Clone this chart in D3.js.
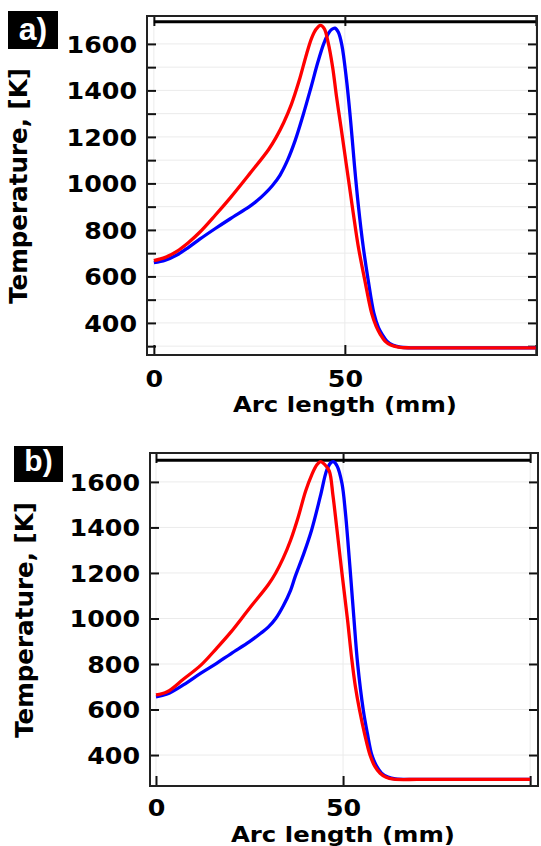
<!DOCTYPE html>
<html>
<head>
<meta charset="utf-8">
<script src="https://cdn.jsdelivr.net/npm/d3@7"></script>
<style>
  body { margin: 0; background: #fff; }
  svg { display: block; }
</style>
</head>
<body>
<svg id="chart" width="541" height="846"></svg>
<script>
// arc length (mm) / temperature (K)
const redA = [[0,668],[3,682],[6,708],[9,745],[12,790],[16,862],[20,938],[25,1040],[30,1145],[32,1198],[34,1262],[36,1340],[38,1440],[40,1558],[41.3,1625],[42.5,1664],[43.6,1680],[44.6,1666],[45.6,1608],[46.8,1500],[47.8,1375],[49,1240],[50,1125],[51,1010],[52.2,872],[53.5,730],[55.2,585],[57,442],[58.2,385],[59.3,350],[60.5,322],[62,305],[64,296],[67,293],[75,293],[85,293],[100,293]];
const blueA = [[0,659],[3,670],[6,692],[9,724],[12,760],[16,805],[20,848],[25,900],[27,925],[29,955],[31,990],[33,1035],[35,1100],[37,1185],[39,1290],[41,1405],[43,1525],[44.5,1602],[45.7,1645],[46.6,1663],[47.4,1668],[48.3,1650],[49.2,1596],[50.4,1450],[51.5,1270],[52.5,1080],[53.5,910],[54.8,728],[56.1,585],[57.6,442],[58.8,380],[59.8,350],[61,322],[62.5,305],[64.5,296],[67,293],[75,293],[85,293],[100,293]];
const redB = [[0,664],[3,678],[7.3,733],[12,795],[16.2,869],[20,940],[25,1045],[30,1148],[32,1200],[34,1265],[36,1345],[38,1445],[40,1560],[41.6,1630],[43,1675],[44,1689],[45,1678],[46.3,1648],[47.3,1540],[48.3,1400],[49.7,1200],[51.2,993],[52.3,825],[53.3,700],[54.4,598],[55.8,490],[57.2,400],[58.5,350],[59.9,320],[61.5,302],[63.5,294],[70,293],[80,293],[90,293],[100,293]];
const blueB = [[0,656],[3,668],[7.3,708],[12,760],[16.2,803],[20,845],[25,898],[28,935],[30,962],[32,1000],[34,1055],[36,1125],[37.2,1184],[39.5,1285],[41.6,1389],[43.9,1535],[45.6,1650],[46.6,1682],[47.4,1689],[48.4,1670],[49.7,1594],[50.6,1470],[51.4,1316],[52.2,1150],[52.9,1000],[53.9,800],[55.4,598],[56.5,495],[57.7,400],[59,350],[60.3,320],[62,303],[64,295],[70,293],[80,293],[90,293],[100,293]];
const meltLine = [[0,1695],[100,1695]];

const xTicks = [0, 50, 100];
const yLabelTicks = [400, 600, 800, 1000, 1200, 1400, 1600];
const yMinorTicksA = [300, 400, 500, 600, 700, 800, 900, 1000, 1100, 1200, 1300, 1400, 1500, 1600];

const svg = d3.select("#chart");
const FONT = "DejaVu Sans, sans-serif";

function stretch(sel, k) {
  sel.each(function () {
    const w = this.getComputedTextLength();
    if (w > 0) d3.select(this).attr("textLength", w * k).attr("lengthAdjust", "spacingAndGlyphs");
  });
}

function drawPanel(p) {
  const x = d3.scaleLinear().domain(p.xDomain).range([p.left, p.right]);
  const y = d3.scaleLinear().domain(p.yDomain).range([p.bottom, p.top]);
  const g = svg.append("g");

  // grid
  g.append("g").selectAll("line").data(p.grid).join("line")
    .attr("x1", p.left).attr("x2", p.right)
    .attr("y1", d => y(d)).attr("y2", d => y(d))
    .attr("stroke", "#ebebeb").attr("stroke-width", 1);
  g.append("g").selectAll("line").data(xTicks).join("line")
    .attr("x1", d => x(d)).attr("x2", d => x(d))
    .attr("y1", p.top).attr("y2", p.bottom)
    .attr("stroke", "#ebebeb").attr("stroke-width", 1);

  // axes (ticks inward)
  const left = g.append("g").attr("transform", "translate(" + p.left + ",0)")
    .call(d3.axisLeft(y).tickValues(p.yTicks).tickSize(-9).tickPadding(10)
      .tickFormat(d => yLabelTicks.includes(d) ? d : ""));
  const right = g.append("g").attr("transform", "translate(" + p.right + ",0)")
    .call(d3.axisRight(y).tickValues(p.yTicks).tickSize(-9).tickFormat(""));
  const bottom = g.append("g").attr("transform", "translate(0," + p.bottom + ")")
    .call(d3.axisBottom(x).tickValues(xTicks).tickSize(-10).tickPadding(p.xPad)
      .tickFormat(d => d === 100 ? "" : d));
  const top = g.append("g").attr("transform", "translate(0," + p.top + ")")
    .call(d3.axisTop(x).tickValues(xTicks).tickSize(-10).tickFormat(""));

  [left, right, bottom, top].forEach(a => {
    a.select(".domain").remove();
    a.selectAll(".tick line").attr("stroke", "#111").attr("stroke-width", 2);
    a.selectAll("text").attr("font-family", FONT).attr("font-weight", "bold")
      .attr("font-size", 23).attr("fill", "#000");
  });
  left.selectAll("text").attr("dy", "0.36em");
  stretch(left.selectAll("text"), 1.1);
  stretch(bottom.selectAll("text"), 1.1);

  // frame
  g.append("rect").attr("x", p.left).attr("y", p.top)
    .attr("width", p.right - p.left).attr("height", p.bottom - p.top)
    .attr("fill", "none").attr("stroke", "#222").attr("stroke-width", 2);

  const line = d3.line().x(d => x(d[0])).y(d => y(d[1])).curve(d3.curveCatmullRom.alpha(0.5));

  g.append("path").datum(meltLine).attr("d", line)
    .attr("fill", "none").attr("stroke", "#000").attr("stroke-width", 3);
  g.append("path").datum(p.blue).attr("d", line)
    .attr("fill", "none").attr("stroke", "#0000ff").attr("stroke-width", 3.3);
  g.append("path").datum(p.red).attr("d", line)
    .attr("fill", "none").attr("stroke", "#ff0000").attr("stroke-width", 3.3);

  // axis titles
  g.append("text")
    .attr("transform", "translate(" + p.yTitleX + "," + p.yTitleY + ") rotate(-90)")
    .attr("text-anchor", "middle").attr("font-family", FONT).attr("font-weight", "bold")
    .attr("font-size", 24).attr("textLength", 236).attr("lengthAdjust", "spacingAndGlyphs")
    .text("Temperature, [K]");
  g.append("text")
    .attr("x", p.xTitleX).attr("y", p.xTitleY)
    .attr("text-anchor", "middle").attr("font-family", FONT).attr("font-weight", "bold")
    .attr("font-size", 22).attr("textLength", 224).attr("lengthAdjust", "spacingAndGlyphs")
    .text("Arc length (mm)");

  // panel tag
  g.append("rect").attr("x", p.tag[0]).attr("y", p.tag[1])
    .attr("width", p.tag[2]).attr("height", p.tag[3]).attr("fill", "#000");
  g.append("text")
    .attr("x", p.tag[0] + p.tag[2] / 2).attr("y", p.tagBase)
    .attr("text-anchor", "middle").attr("font-family", "Liberation Sans, Arial, sans-serif")
    .attr("font-weight", "bold").attr("font-size", p.tagSize).attr("fill", "#fff")
    .text(p.label);
}

drawPanel({
  red: redA, blue: blueA,
  xDomain: [-1.8, 100.3], yDomain: [262, 1720],
  left: 147, right: 537, top: 16, bottom: 355,
  yTicks: yMinorTicksA, grid: yMinorTicksA, xPad: 16,
  yTitleX: 27, yTitleY: 186, xTitleX: 345, xTitleY: 412,
  tag: [8, 11, 50, 38], tagBase: 40, tagSize: 32, label: "a)"
});

drawPanel({
  red: redB, blue: blueB,
  xDomain: [-1.6, 102.1], yDomain: [264, 1727],
  left: 150, right: 538, top: 453, bottom: 786,
  yTicks: yLabelTicks, grid: yLabelTicks, xPad: 14,
  yTitleX: 33, yTitleY: 620, xTitleX: 343, xTitleY: 842,
  tag: [14, 446, 49, 36], tagBase: 471, tagSize: 30, label: "b)"
});
</script>
</body>
</html>
